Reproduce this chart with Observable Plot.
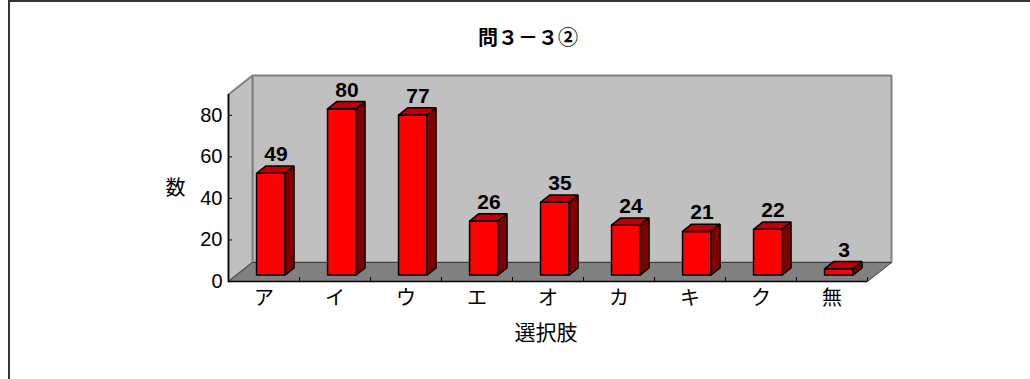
<!DOCTYPE html>
<html>
<head>
<meta charset="utf-8">
<script src="https://cdn.jsdelivr.net/npm/d3@7"></script>
<script src="https://cdn.jsdelivr.net/npm/@observablehq/plot@0.6"></script>
<style>
  html, body { margin: 0; padding: 0; background: #fff; overflow: hidden; }
  #chart { position: relative; width: 1030px; height: 379px; }
  #border { position: absolute; left: 8px; top: 0; right: 0; bottom: 0; border-left: 2px solid #333; border-top: 2px solid #333; pointer-events: none; }
  svg { display: block; }
</style>
</head>
<body>
<div id="chart"><div id="border"></div></div>
<script>
const title = "問３－３②";
const xTitle = "選択肢";
const yTitle = "数";
const categories = ["ア", "イ", "ウ", "エ", "オ", "カ", "キ", "ク", "無"];
const counts = [49, 80, 77, 26, 35, 24, 21, 22, 3];
const yTicks = [0, 20, 40, 60, 80];
const yMax = 90;

const W = 1030, H = 379, mL = 228, mR = 163, mT = 94, mB = 98;
const n = categories.length;
const pxX = (W - mL - mR) / n;      // px per category
const pxY = (H - mT - mB) / yMax;   // px per unit
const depthDX = 24, depthDY = 19;   // pixel projection of full depth
const proj = (x, y, t) => ({x: x + t * depthDX / pxX, y: y + t * depthDY / pxY});

const t0 = 0.34, t1 = 0.72, a0 = 0.28, b0 = 0.68;

function poly(id, pts) {
  const p = pts.map(([x, y, t]) => ({id, ...proj(x, y, t)}));
  p.push({...p[0]});
  return p;
}

const leftWall = poly("lw", [[0, 0, 0], [0, yMax, 0], [0, yMax, 1], [0, 0, 1]]);
const backWall = poly("bw", [[0, 0, 1], [n, 0, 1], [n, yMax, 1], [0, yMax, 1]]);
const floor = poly("fl", [[0, 0, 0], [n, 0, 0], [n, 0, 1], [0, 0, 1]]);

const fronts = [], sides = [], tops = [];
counts.forEach((v, i) => {
  const a = i + a0, b = i + b0;
  fronts.push(...poly("f" + i, [[a, 0, t0], [b, 0, t0], [b, v, t0], [a, v, t0]]));
  sides.push(...poly("s" + i, [[b, 0, t0], [b, 0, t1], [b, v, t1], [b, v, t0]]));
  tops.push(...poly("t" + i, [[a, v, t0], [b, v, t0], [b, v, t1], [a, v, t1]]));
});

const idx = d3.range(n);

const chart = Plot.plot({
  width: W, height: H,
  marginLeft: mL, marginRight: mR, marginTop: mT, marginBottom: mB,
  style: {fontSize: "20px", fontFamily: "'Liberation Sans', 'Noto Sans CJK JP', sans-serif", color: "#000", background: "transparent"},
  x: {domain: [0, n], ticks: idx.map(i => i + 0.5), tickFormat: d => categories[Math.floor(d)], tickSize: 0, tickPadding: 9, label: null},
  y: {domain: [0, yMax], ticks: yTicks, tickSize: 0, tickPadding: 6, label: null},
  marks: [
    Plot.line(backWall, {x: "x", y: "y", z: "id", fill: "#c0c0c0", stroke: "#808080", strokeWidth: 2, strokeLinejoin: "miter"}),
    Plot.line(leftWall, {x: "x", y: "y", z: "id", fill: "#c0c0c0", stroke: "#808080", strokeWidth: 2, strokeLinejoin: "miter"}),
    Plot.line(floor, {x: "x", y: "y", z: "id", fill: "#808080", stroke: "#404040", strokeWidth: 1, strokeLinejoin: "miter"}),
    Plot.ruleY(yTicks, {x1: 0, x2: 4 / pxX, stroke: "#000", strokeWidth: 1}),
    Plot.ruleX(d3.range(1, n + 1), {y1: 0, y2: 4 / pxY, stroke: "#000", strokeWidth: 1}),
    Plot.line(fronts, {x: "x", y: "y", z: "id", fill: "#ff0000", stroke: "#000", strokeWidth: 1.5, strokeLinejoin: "miter"}),
    Plot.line(sides, {x: "x", y: "y", z: "id", fill: "#800000", stroke: "#000", strokeWidth: 1.5, strokeLinejoin: "miter"}),
    Plot.line(tops, {x: "x", y: "y", z: "id", fill: "#c00000", stroke: "#000", strokeWidth: 1.5, strokeLinejoin: "miter"}),
    Plot.ruleY([0], {stroke: "#000", strokeWidth: 1.5}),
    Plot.ruleX([0], {stroke: "#000", strokeWidth: 1.5}),
    Plot.text(idx, {
      x: i => proj(i + 0.49, counts[i], (t0 + t1) / 2).x,
      y: i => proj(0, counts[i], t1).y,
      text: i => String(counts[i]),
      lineAnchor: "bottom", dy: -5,
      fontSize: 21, fontWeight: "bold", fontFamily: "'Liberation Sans', sans-serif", fill: "#000"
    }),
    Plot.text([title], {frameAnchor: "top", dx: -20, dy: -64, fontSize: 20, fontWeight: "bold", fontFamily: "'Noto Sans CJK JP', sans-serif", fill: "#000"}),
    Plot.text([xTitle], {frameAnchor: "bottom", dx: -2, dy: 58, fontSize: 21, fontFamily: "'Noto Sans CJK JP', sans-serif", fill: "#000"}),
    Plot.text([yTitle], {frameAnchor: "left", dx: -53, dy: 1, textAnchor: "middle", fontSize: 20, fontFamily: "'Noto Sans CJK JP', sans-serif", fill: "#000"})
  ]
});
document.getElementById("chart").prepend(chart);
</script>
</body>
</html>
